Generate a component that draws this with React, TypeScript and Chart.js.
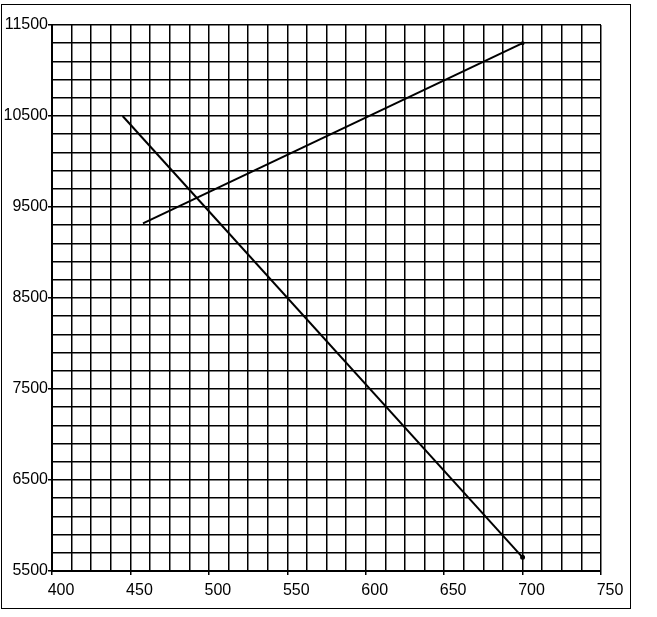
import React, { useEffect, useRef } from "react";
import { Chart, registerables } from "chart.js";

Chart.register(...registerables);

// Data
const fallingX = [445, 700];
const fallingY = [10500, 5650];
const risingX = [458, 700];
const risingY = [9320, 11300];

const xTickLabels = [400, 450, 500, 550, 600, 650, 700, 750];
const yTickLabels = [5500, 6500, 7500, 8500, 9500, 10500, 11500];

const X_MIN = 400, X_MAX = 750, X_STEP = 12.5;
const Y_MIN = 5500, Y_MAX = 11500, Y_STEP = 200;

const FONT = { family: '"Liberation Sans", Arial, sans-serif', size: 16 };

function gridValues(min: number, max: number, step: number) {
  const out: { value: number }[] = [];
  const n = Math.round((max - min) / step);
  for (let i = 0; i <= n; i++) out.push({ value: min + i * step });
  return out;
}

const framePlugin = {
  id: "frame",
  beforeDraw(chart: any) {
    const ctx = chart.ctx;
    ctx.save();
    ctx.fillStyle = "#ffffff";
    ctx.fillRect(0, 0, chart.width, chart.height);
    ctx.restore();
  },
  afterDraw(chart: any) {
    const ctx = chart.ctx;
    ctx.save();
    ctx.strokeStyle = "#000000";
    ctx.lineWidth = 1;
    ctx.strokeRect(1.5, 4.5, 629, 604);
    ctx.restore();
  },
};

export default function App() {
  const ref = useRef<HTMLCanvasElement | null>(null);

  useEffect(() => {
    if (!ref.current) return;
    const chart = new Chart(ref.current, {
      type: "scatter",
      data: {
        datasets: [
          {
            data: fallingX.map((x, i) => ({ x, y: fallingY[i] })),
            showLine: true,
            borderColor: "#000",
            backgroundColor: "#000",
            borderWidth: 2,
            pointRadius: [0, 1.5],
          },
          {
            data: risingX.map((x, i) => ({ x, y: risingY[i] })),
            showLine: true,
            borderColor: "#000",
            backgroundColor: "#000",
            borderWidth: 2,
            pointRadius: [0, 1],
          },
        ],
      },
      options: {
        animation: false,
        responsive: false,
        devicePixelRatio: 1,
        layout: { padding: { left: 0, top: 25, right: 56, bottom: 0 } },
        plugins: { legend: { display: false }, tooltip: { enabled: false } },
        scales: {
          x: {
            type: "linear",
            min: X_MIN,
            max: X_MAX,
            afterBuildTicks: (axis: any) => {
              axis.ticks = gridValues(X_MIN, X_MAX, X_STEP);
            },
            afterFit: (axis: any) => {
              axis.height = 46;
            },
            border: { display: true, color: "#000", width: 2 },
            grid: {
              color: "#000",
              lineWidth: 1.5,
              tickLength: 4,
              tickColor: (c: any) =>
                c.tick && xTickLabels.includes(c.tick.value) ? "#000" : "rgba(0,0,0,0)",
            },
            ticks: {
              autoSkip: false,
              maxRotation: 0,
              minRotation: 0,
              padding: 6,
              labelOffset: 9,
              color: "#000",
              font: FONT,
              callback: (v: any) => (xTickLabels.includes(Number(v)) ? String(v) : ""),
            },
          },
          y: {
            type: "linear",
            min: Y_MIN,
            max: Y_MAX,
            afterBuildTicks: (axis: any) => {
              axis.ticks = gridValues(Y_MIN, Y_MAX, Y_STEP);
            },
            afterFit: (axis: any) => {
              axis.width = 52;
            },
            border: { display: true, color: "#000", width: 2 },
            grid: {
              color: "#000",
              lineWidth: 1.5,
              tickLength: 4,
              tickColor: (c: any) =>
                c.tick && yTickLabels.includes(c.tick.value) ? "#000" : "rgba(0,0,0,0)",
            },
            ticks: {
              autoSkip: false,
              padding: 0,
              color: "#000",
              font: FONT,
              callback: (v: any) => (yTickLabels.includes(Number(v)) ? String(v) : ""),
            },
          },
        },
      },
      plugins: [framePlugin],
    } as any);
    return () => chart.destroy();
  }, []);

  return (
    <div style={{ position: "absolute", left: 0, top: 0, width: 657, height: 617 }}>
      <canvas ref={ref} width={657} height={617} style={{ display: "block" }} />
    </div>
  );
}
